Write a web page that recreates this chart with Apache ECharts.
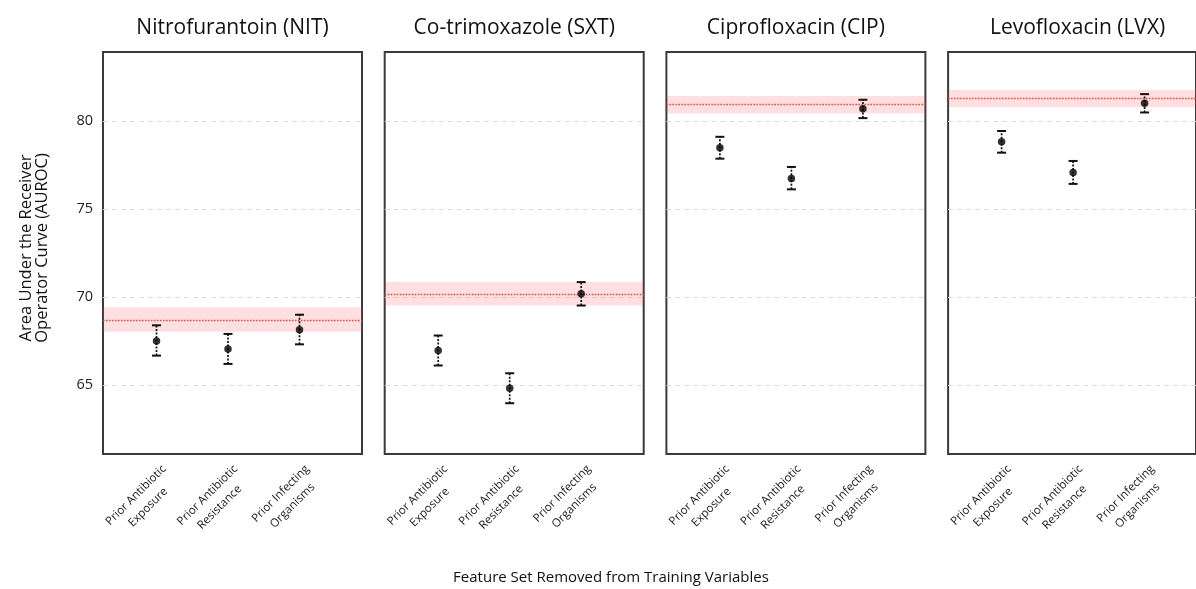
<!DOCTYPE html>
<html>
<head>
<meta charset="utf-8">
<script src="https://cdn.jsdelivr.net/npm/echarts@6/dist/echarts.min.js"></script>
<style>html,body{margin:0;padding:0;background:#fff}#c{width:1196px;height:589px}</style>
</head>
<body>
<div id="c"></div>
<script>
const categories = ['Prior Antibiotic\nExposure', 'Prior Antibiotic\nResistance', 'Prior Infecting\nOrganisms'];
const panelTitles = ['Nitrofurantoin (NIT)', 'Co-trimoxazole (SXT)', 'Ciprofloxacin (CIP)', 'Levofloxacin (LVX)'];
const meanValues = [[67.51, 67.06, 68.15], [66.97, 64.83, 70.19], [78.47, 76.73, 80.68], [78.81, 77.06, 81.00]];
const lowValues  = [[66.68, 66.21, 67.32], [66.12, 63.98, 69.52], [77.85, 76.11, 80.15], [78.19, 76.42, 80.47]];
const highValues = [[68.40, 67.91, 69.00], [67.82, 65.68, 70.85], [79.09, 77.38, 81.19], [79.42, 77.72, 81.51]];
const baselineValues = [68.66, 70.15, 80.92, 81.26];
const baselineLow = [68.04, 69.52, 80.43, 80.76];
const baselineHigh = [69.43, 70.85, 81.41, 81.75];
const yTicks = [65, 70, 75, 80];
const yMin = 61.1, yMax = 83.9;

const FONT = '"Open Sans", "Liberation Sans", sans-serif';
const chart = echarts.init(document.getElementById('c'));

const PANEL_L0 = 103, PANEL_STEP = 281.7, PANEL_W = 259, TOP = 52, BOTTOM = 135;
const grids = [], xAxes = [], yAxes = [], series = [], graphics = [];

for (let i = 0; i < 4; i++) {
  const L = PANEL_L0 + PANEL_STEP * i;
  grids.push({left: L, width: PANEL_W, top: TOP, bottom: BOTTOM, show: true, borderColor: '#3a3a3a', borderWidth: 2, backgroundColor: 'transparent'});
  grids.push({left: L + 17.75, width: 214.5, top: TOP, bottom: BOTTOM});
  grids.push({left: L + 31.5, width: 214.5, top: TOP, bottom: BOTTOM});
  const gA = 3 * i, gB = 3 * i + 1, gC = 3 * i + 2;

  xAxes.push({gridIndex: gA, type: 'category', data: categories, show: false});
  xAxes.push({gridIndex: gB, type: 'category', data: categories, show: false});
  xAxes.push({gridIndex: gC, type: 'category', data: categories,
    axisLine: {show: false}, axisTick: {show: false},
    axisLabel: {interval: 0, rotate: 45, margin: 19, color: '#1a1a1a',
      formatter: v => v.split('\n').map(s => '{c|' + s + '}').join('\n'),
      rich: {c: {align: 'center', fontFamily: FONT, fontSize: 11.5, lineHeight: 17, color: '#1a1a1a'}}}});

  yAxes.push({gridIndex: gA, type: 'value', min: yMin, max: yMax,
    axisLine: {show: false},
    axisTick: {show: false, customValues: yTicks},
    axisLabel: {show: i === 0, customValues: yTicks, fontFamily: FONT, fontSize: 14.5, color: '#222', margin: 10},
    splitLine: {show: true, lineStyle: {color: '#dcdcdc', width: 1, type: [5, 4]}}});
  yAxes.push({gridIndex: gB, type: 'value', min: yMin, max: yMax, show: false, splitLine: {show: false}});
  yAxes.push({gridIndex: gC, type: 'value', min: yMin, max: yMax, show: false, splitLine: {show: false}});

  series.push({type: 'line', xAxisIndex: gA, yAxisIndex: gA, data: [], silent: true,
    markArea: {silent: true, itemStyle: {color: 'rgba(255, 80, 80, 0.18)'}, data: [[{yAxis: baselineLow[i]}, {yAxis: baselineHigh[i]}]]},
    markLine: {silent: true, symbol: 'none', label: {show: false},
      lineStyle: {color: '#e8403a', width: 1.3, type: [1.5, 1.5]}, data: [{yAxis: baselineValues[i]}]}});

  series.push({type: 'custom', xAxisIndex: gB, yAxisIndex: gB, z: 5,
    data: categories.map((c, k) => [k, lowValues[i][k], highValues[i][k]]),
    renderItem: (params, api) => {
      const x = api.value(0);
      const pLo = api.coord([x, api.value(1)]);
      const pHi = api.coord([x, api.value(2)]);
      const cap = 4.5;
      return {type: 'group', children: [
        {type: 'line', shape: {x1: pLo[0], y1: pLo[1], x2: pHi[0], y2: pHi[1]}, style: {stroke: '#111', lineWidth: 1.7, lineDash: [2, 1.5]}},
        {type: 'line', shape: {x1: pHi[0] - cap, y1: pHi[1], x2: pHi[0] + cap, y2: pHi[1]}, style: {stroke: '#111', lineWidth: 2}},
        {type: 'line', shape: {x1: pLo[0] - cap, y1: pLo[1], x2: pLo[0] + cap, y2: pLo[1]}, style: {stroke: '#111', lineWidth: 2}}
      ]};
    }});

  series.push({type: 'scatter', xAxisIndex: gB, yAxisIndex: gB, z: 6, symbol: 'circle', symbolSize: 7.5,
    itemStyle: {color: '#000'}, data: meanValues[i].map((v, k) => [k, v])});

  graphics.push({type: 'text', x: L + PANEL_W / 2, y: 28,
    style: {text: panelTitles[i], font: '21px ' + FONT, fill: '#111', textAlign: 'center', textVerticalAlign: 'middle'}});
}

graphics.push({type: 'text', x: 611, y: 578,
  style: {text: 'Feature Set Removed from Training Variables', font: '15px ' + FONT, fill: '#111', textAlign: 'center', textVerticalAlign: 'middle'}});
graphics.push({type: 'text', x: 34, y: 248, rotation: Math.PI / 2,
  style: {text: 'Area Under the Receiver\nOperator Curve (AUROC)', font: '16.5px ' + FONT, lineHeight: 16, fill: '#111', textAlign: 'center', textVerticalAlign: 'middle'}});

chart.setOption({
  animation: false,
  backgroundColor: '#fff',
  grid: grids, xAxis: xAxes, yAxis: yAxes, series: series, graphic: graphics
});
</script>
</body>
</html>
